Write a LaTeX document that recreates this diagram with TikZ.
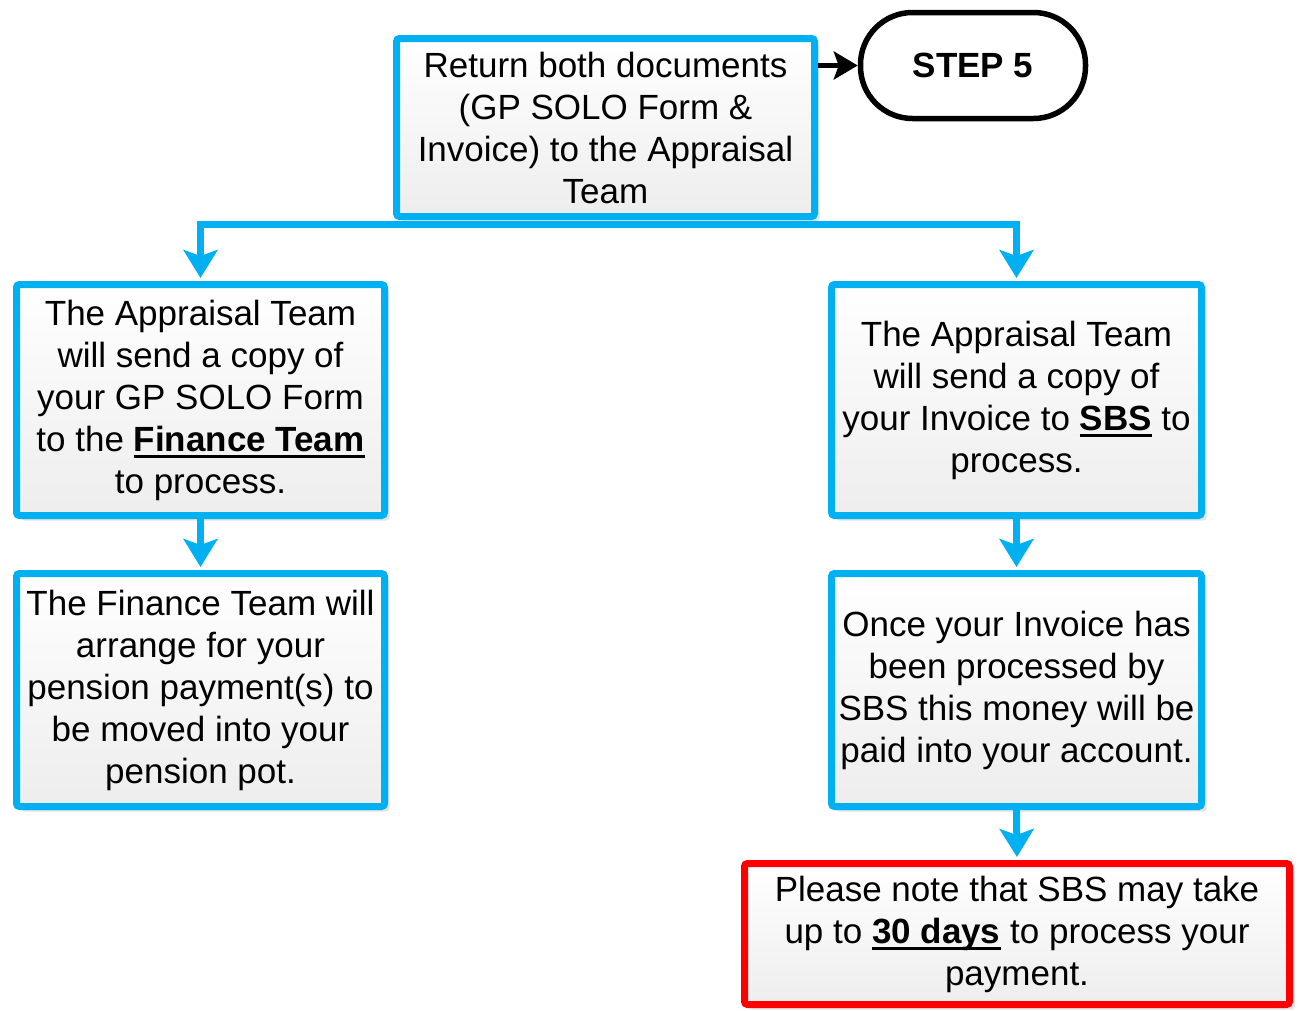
\documentclass[tikz,border=0pt]{standalone}
\usepackage{fontspec}
\setmainfont{Liberation Sans}
\usetikzlibrary{arrows.meta,shadows}
\definecolor{flowblue}{HTML}{00B0F0}
\definecolor{notered}{HTML}{FF0000}
\newcommand{\boldul}[1]{\setbox0\hbox{\textbf{#1}}\rlap{\rule[-6.5pt]{\wd0}{2.8pt}}\box0\relax}
\tikzset{
    flow-box/.style = {draw=flowblue, line width=7pt, rectangle, rounded corners=3pt, top color=white, bottom color=gray!14, drop shadow={shadow xshift=5pt, shadow yshift=-5pt, fill=gray!22, opacity=1}, align=center, inner sep=0pt, font=\fontsize{35}{42}\selectfont},
    note-box/.style = {flow-box, draw=notered},
    step-title/.style = {draw=black, fill=white, line width=5.5pt, rounded corners=52pt, minimum width=225pt, minimum height=106pt, inner sep=0pt, font=\fontsize{35}{42}\selectfont\bfseries},
    flow-arrow/.style = {draw=flowblue, line width=7pt, -{Stealth[length=28pt,width=34pt,inset=6pt]}},
    step-arrow/.style = {draw=black, line width=5pt, -{Stealth[length=24pt,width=28pt,inset=5pt]}},
}

\begin{document}
\begin{tikzpicture}[x=1pt,y=-1pt]
\useasboundingbox (0,0) rectangle (1302,1010);

\node [flow-box, minimum width=418pt, minimum height=178pt] (return) at (605.5,127.5) {Return both documents\\(GP SOLO Form \&\\Invoice) to the Appraisal\\Team};
\node [step-title] (step) at (973,65.5) {STEP 5};

\node [flow-box, minimum width=368pt, minimum height=231pt] (finance-copy) at (200.5,400) {The Appraisal Team\\will send a copy of\\your GP SOLO Form\\to the \boldul{Finance Team}\\to process.};
\node [flow-box, minimum width=368pt, minimum height=233pt] (pension) at (200.5,690) {The Finance Team will\\arrange for your\\pension payment(s) to\\be moved into your\\pension pot.};

\node [flow-box, minimum width=370pt, minimum height=231pt] (sbs-copy) at (1016.5,400) {The Appraisal Team\\will send a copy of\\your Invoice to \boldul{SBS} to\\process.};
\node [flow-box, minimum width=370pt, minimum height=233pt] (paid) at (1016.5,690) {Once your Invoice has\\been processed by\\SBS this money will be\\paid into your account.};
\node [note-box, minimum width=545pt, minimum height=141pt] (note) at (1017,934) {Please note that SBS may take\\up to \boldul{30 days} to process your\\payment.};

\draw [step-arrow] (return.east |- step.west) -- (step.west);
\draw [flow-arrow] ([yshift=-4.5pt]return.south) -| ([yshift=3pt]finance-copy.north);
\draw [flow-arrow] ([yshift=-4.5pt]return.south) -| ([yshift=3pt]sbs-copy.north);
\draw [flow-arrow] (finance-copy.south) -- ([yshift=3pt]pension.north);
\draw [flow-arrow] (sbs-copy.south) -- ([yshift=3pt]paid.north);
\draw [flow-arrow] (paid.south) -- ([yshift=3pt]note.north);
\end{tikzpicture}
\end{document}
